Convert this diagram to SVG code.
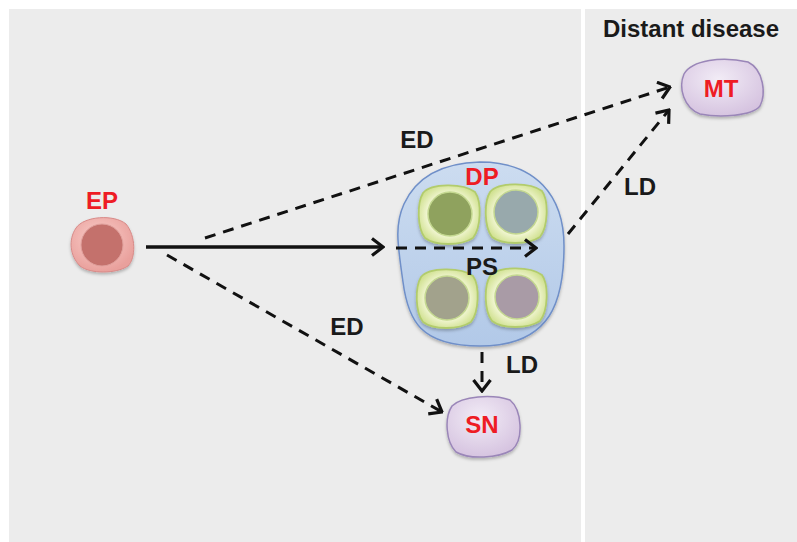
<svg xmlns="http://www.w3.org/2000/svg" width="797" height="542" viewBox="0 0 797 542">
  <defs>
    <radialGradient id="gEP" cx="0.45" cy="0.4" r="0.6">
      <stop offset="0" stop-color="#fbd0cc"/>
      <stop offset="1" stop-color="#e9a09c"/>
    </radialGradient>
    <radialGradient id="gLav" cx="0.45" cy="0.35" r="0.75">
      <stop offset="0" stop-color="#f2ecf6"/>
      <stop offset="1" stop-color="#d2bedd"/>
    </radialGradient>
    <linearGradient id="gDP" x1="0" y1="0" x2="0" y2="1">
      <stop offset="0" stop-color="#ccdcf0"/>
      <stop offset="1" stop-color="#b2c9e8"/>
    </linearGradient>
    <radialGradient id="gShell" cx="0.5" cy="0.5" r="0.55">
      <stop offset="0.6" stop-color="#f6f9dc"/>
      <stop offset="1" stop-color="#cfe08e"/>
    </radialGradient>
    <path id="shell" d="M -26 -21 C -18 -31 14 -31 26 -22 C 33 -12 32 14 24 24 C 12 32 -14 32 -24 24 C -32 14 -32 -11 -26 -21 Z"/>
    <marker id="arr" viewBox="0 0 14 20" refX="12.5" refY="10" markerWidth="14" markerHeight="20" markerUnits="userSpaceOnUse" orient="auto">
      <path d="M1.5,1.5 L12.5,10 L1.5,18.5" fill="none" stroke="#111" stroke-width="3.2"/>
    </marker>
    <filter id="sh" x="-20%" y="-20%" width="140%" height="150%">
      <feDropShadow dx="0" dy="2" stdDeviation="1.5" flood-color="#000" flood-opacity="0.25"/>
    </filter>
  </defs>
  <style>
    .lbl { font-family: "Liberation Sans", Arial, sans-serif; font-weight: bold; font-size: 24px; text-anchor: middle; }
    .red { fill: #ee1c24; }
    .blk { fill: #1a1a1a; }
    .dash { fill: none; stroke: #111; stroke-width: 3; stroke-dasharray: 11 8; marker-end: url(#arr); }
    .solid { fill: none; stroke: #111; stroke-width: 3.5; marker-end: url(#arr); }
    .shell { fill: url(#gShell); stroke: #b2cc6c; stroke-width: 1.8; filter: url(#sh); }
    .core { stroke: #c4d890; stroke-width: 1.5; }
  </style>

  <!-- panels -->
  <rect width="797" height="542" fill="#ffffff"/>
  <rect x="9" y="9" width="572" height="533" fill="#ececec"/>
  <rect x="585" y="9" width="212" height="533" fill="#ececec"/>
  <text class="lbl blk" x="691" y="37" font-size="23">Distant disease</text>

  <!-- connectors -->
  <g id="connectors">
    <line class="solid" x1="146" y1="247" x2="383" y2="247"/>
    <line class="dash" x1="205" y1="238" x2="670" y2="87"/>
    <line class="dash" x1="167" y1="255" x2="442" y2="412"/>
    <line class="dash" x1="568" y1="234" x2="669" y2="110"/>
    <line class="dash" x1="482" y1="352" x2="482" y2="391" stroke-dasharray="10 7"/>
  </g>

  <!-- primary tumour with four cells -->
  <g id="DP">
    <path d="M 480 162 C 536 162 564 196 564 246 C 564 300 552 346 480 346 C 420 346 408 320 403 282 C 398 246 394 226 404 204 C 416 178 440 163 480 162 Z" fill="url(#gDP)" stroke="#6f8fc8" stroke-width="1.5" filter="url(#sh)"/>
    <g id="cell1">
      <use href="#shell" x="449" y="214" class="shell"/>
      <circle class="core" cx="450" cy="214" r="22" fill="#8fa25e"/>
    </g>
    <g id="cell2">
      <use href="#shell" x="516" y="213" class="shell"/>
      <circle class="core" cx="516" cy="212" r="22" fill="#98a9ac"/>
    </g>
    <g id="cell3">
      <use href="#shell" x="447" y="298" class="shell"/>
      <circle class="core" cx="447" cy="298" r="22" fill="#a2a28c"/>
    </g>
    <g id="cell4">
      <use href="#shell" x="516" y="297" class="shell"/>
      <circle class="core" cx="517" cy="297" r="22" fill="#a99ba6"/>
    </g>
    <line class="dash" x1="396" y1="248" x2="536" y2="248"/>
    <text class="lbl red" x="482" y="185">DP</text>
    <text class="lbl blk" x="482" y="275">PS</text>
  </g>

  <!-- early-stage primary -->
  <g id="EP">
    <path d="M 76 228 C 84 216 114 214 126 224 C 136 236 136 258 128 266 C 116 274 90 274 80 266 C 70 256 68 240 76 228 Z" fill="url(#gEP)" stroke="#d88a88" stroke-width="1" filter="url(#sh)"/>
    <circle cx="102" cy="245" r="21" fill="#c4716c" stroke="#e0a09c" stroke-width="1"/>
    <text class="lbl red" x="102" y="209">EP</text>
  </g>

  <!-- sentinel node -->
  <g id="SN">
    <path d="M 452 406 C 462 396 492 394 510 400 C 522 410 524 440 512 450 C 498 458 470 460 456 452 C 446 442 444 418 452 406 Z" fill="url(#gLav)" stroke="#9a86b8" stroke-width="1.5" filter="url(#sh)"/>
    <text class="lbl red" x="482" y="433">SN</text>
  </g>

  <!-- metastasis -->
  <g id="MT">
    <path d="M 684 74 C 692 60 722 56 748 62 C 764 70 766 94 760 106 C 752 116 720 118 700 114 C 684 108 678 88 684 74 Z" fill="url(#gLav)" stroke="#9a86b8" stroke-width="1.5" filter="url(#sh)"/>
    <text class="lbl red" x="721" y="97">MT</text>
  </g>

  <!-- connector labels -->
  <text class="lbl blk" x="417" y="148">ED</text>
  <text class="lbl blk" x="347" y="335">ED</text>
  <text class="lbl blk" x="640" y="195">LD</text>
  <text class="lbl blk" x="522" y="373">LD</text>
</svg>
